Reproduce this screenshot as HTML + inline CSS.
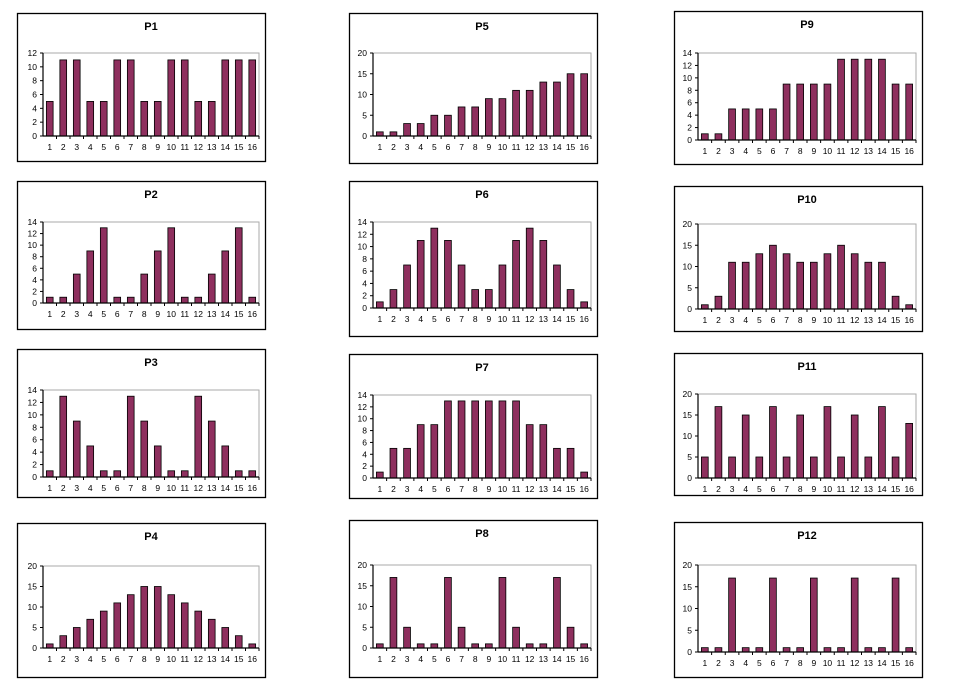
<!DOCTYPE html>
<html><head><meta charset="utf-8"><style>
body{margin:0;background:#fff;}
svg{display:block;font-family:"Liberation Sans",Arial,sans-serif;}
</style></head><body>
<svg id="s" width="978" height="687" xmlns="http://www.w3.org/2000/svg"></svg>
<script>
const P=[
["P1",[17,13,248,148],[43,53,259,136],12,2,[5,11,11,5,5,11,11,5,5,11,11,5,5,11,11,11]],
["P2",[17,181,248,148],[43,222,259,303],14,2,[1,1,5,9,13,1,1,5,9,13,1,1,5,9,13,1]],
["P3",[17,349,248,148],[43,390,259,477],14,2,[1,13,9,5,1,1,13,9,5,1,1,13,9,5,1,1]],
["P4",[17,523,248,154],[43,566,259,648],20,5,[1,3,5,7,9,11,13,15,15,13,11,9,7,5,3,1]],
["P5",[349,13,248,150],[373,53,591,136],20,5,[1,1,3,3,5,5,7,7,9,9,11,11,13,13,15,15]],
["P6",[349,181,248,155],[373,222,591,308],14,2,[1,3,7,11,13,11,7,3,3,7,11,13,11,7,3,1]],
["P7",[349,354,248,144],[373,395,591,478],14,2,[1,5,5,9,9,13,13,13,13,13,13,9,9,5,5,1]],
["P8",[349,520,248,157],[373,565,591,648],20,5,[1,17,5,1,1,17,5,1,1,17,5,1,1,17,5,1]],
["P9",[674,11,248,153],[698,53,916,140],14,2,[1,1,5,5,5,5,9,9,9,9,13,13,13,13,9,9]],
["P10",[674,186,248,145],[698,224,916,309],20,5,[1,3,11,11,13,15,13,11,11,13,15,13,11,11,3,1]],
["P11",[674,353,248,142],[698,394,916,478],20,5,[5,17,5,15,5,17,5,15,5,17,5,15,5,17,5,13]],
["P12",[674,522,248,155],[698,565,916,652],20,5,[1,1,17,1,1,17,1,1,17,1,1,17,1,1,17,1]]
];
let h='';
for(const [t,b,p,ym,st,d] of P){
 h+=`<rect x="${b[0]+.5}" y="${b[1]+.5}" width="${b[2]}" height="${b[3]}" fill="#fff" stroke="#000" stroke-width="1.3"/>`;
 h+=`<text x="${(p[0]+p[2])/2}" y="${b[1]+17}" font-size="11" font-weight="bold" text-anchor="middle">${t}</text>`;
 const [x0,y0,x1,y1]=p, W=x1-x0, H=y1-y0, cw=W/16;
 h+=`<rect x="${x0}" y="${y0}" width="${W}" height="${H}" fill="none" stroke="#aaa" stroke-width="1"/>`;
 for(let v=0;v<=ym;v+=st){const y=y1-v/ym*H;
  h+=`<line x1="${x0-3}" x2="${x0}" y1="${y}" y2="${y}" stroke="#000"/>`;
  h+=`<text x="${x0-6}" y="${y+3}" font-size="8.5" text-anchor="end">${v}</text>`;}
 for(let i=0;i<16;i++){const bh=d[i]/ym*H,bx=x0+i*cw+cw*0.25;
  h+=`<rect x="${bx}" y="${y1-bh}" width="${cw*0.5}" height="${bh}" fill="#8e2f5e" stroke="#000" stroke-width="0.8"/>`;
  h+=`<text x="${x0+(i+0.5)*cw}" y="${y1+14}" font-size="8.5" text-anchor="middle">${i+1}</text>`;
  h+=`<line x1="${x0+(i+1)*cw}" x2="${x0+(i+1)*cw}" y1="${y1}" y2="${y1+3}" stroke="#000"/>`;}
 h+=`<line x1="${x0}" x2="${x0}" y1="${y0}" y2="${y1}" stroke="#000" stroke-width="1.2"/>`;
 h+=`<line x1="${x0}" x2="${x1}" y1="${y1}" y2="${y1}" stroke="#000" stroke-width="1.2"/>`;
}
document.getElementById('s').innerHTML=h;
</script>
</body></html>
